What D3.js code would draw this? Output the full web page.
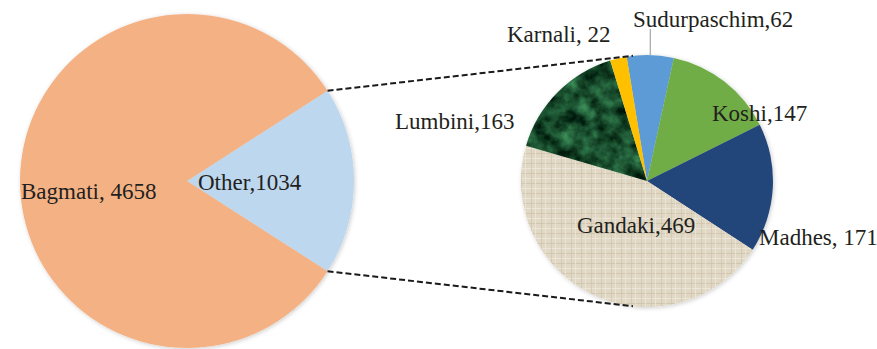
<!DOCTYPE html>
<html>
<head>
<meta charset="utf-8">
<script src="https://cdn.jsdelivr.net/npm/d3@7"></script>
<style>
  body { margin: 0; background: #fff; }
  svg text { font-family: "Liberation Serif", "Times New Roman", serif; font-size: 23px; fill: #231f20; }
</style>
</head>
<body>
<svg id="chart" width="877" height="349"></svg>
<script>
// main pie
const mainNames = ["Other", "Bagmati"];
const mainValues = [1034, 4658];
const mainLabels = ["Other,1034", "Bagmati, 4658"];
// breakdown of "Other"
const subNames = ["Sudurpaschim", "Koshi", "Madhes", "Gandaki", "Lumbini", "Karnali"];
const subValues = [62, 147, 171, 469, 163, 22];
const subLabels = ["Sudurpaschim,62", "Koshi,147", "Madhes, 171", "Gandaki,469", "Lumbini,163", "Karnali, 22"];

const mainColors = { Other: "#bdd7ee", Bagmati: "#f4b183" };
const subColors = {
    Sudurpaschim: "#5b9bd5", Koshi: "#70ad47", Madhes: "#23457a",
    Gandaki: "url(#linen)", Lumbini: "#1d5a33", Karnali: "#ffc000"
};

// layout
const main = { cx: 187, cy: 181, r: 167 };
const sub = { cx: 647, cy: 181, r: 126, start: -9.3 * Math.PI / 180 };
const labelPos = {
    "Other": [198, 190], "Bagmati": [21, 199],
    "Sudurpaschim": [633, 27], "Koshi": [712, 121], "Madhes": [759, 245],
    "Gandaki": [577, 233], "Lumbini": [395, 129], "Karnali": [507, 42]
};

const svg = d3.select("#chart");
const defs = svg.append("defs");

// linen texture
let linen = defs.append("pattern").attr("id", "linen")
    .attr("patternUnits", "userSpaceOnUse").attr("width", 10).attr("height", 10);
linen.append("rect").attr("width", 10).attr("height", 10).attr("fill", "#e0d7c4");
linen.append("rect").attr("x", 0).attr("y", 2).attr("width", 10).attr("height", 1).attr("fill", "#d2c7b0");
linen.append("rect").attr("x", 0).attr("y", 7).attr("width", 10).attr("height", 1).attr("fill", "#ece6d8");
linen.append("rect").attr("x", 4).attr("y", 0).attr("width", 1).attr("height", 10).attr("fill", "#d0c5ad").attr("opacity", 0.7);
linen.append("rect").attr("x", 8).attr("y", 0).attr("width", 1).attr("height", 10).attr("fill", "#efe9dc").attr("opacity", 0.7);

// green marble
let marble = defs.append("filter").attr("id", "marble")
    .attr("color-interpolation-filters", "sRGB")
    .attr("x", 0).attr("y", 0).attr("width", 1).attr("height", 1);
marble.append("feTurbulence").attr("type", "fractalNoise")
    .attr("baseFrequency", 0.06).attr("numOctaves", 4).attr("seed", 7).attr("result", "n");
marble.append("feColorMatrix").attr("in", "n").attr("type", "matrix")
    .attr("values", "0.4 0 0 0 -0.1  0.75 0 0 0 -0.07  0.5 0 0 0 -0.07  0 0 0 0 1")
    .attr("result", "c");
marble.append("feComposite").attr("in", "c").attr("in2", "SourceGraphic").attr("operator", "in");

let shadow = defs.append("filter").attr("id", "shadow")
    .attr("x", "-10%").attr("y", "-10%").attr("width", "120%").attr("height", "120%");
shadow.append("feDropShadow").attr("dx", 1).attr("dy", 1).attr("stdDeviation", 2)
    .attr("flood-color", "#000").attr("flood-opacity", 0.2);

// main pie
const mainData = mainNames.map((n, i) => ({ name: n, value: mainValues[i], label: mainLabels[i] }));
const otherFrac = mainValues[0] / d3.sum(mainValues);
const mainStart = Math.PI / 2 - otherFrac * Math.PI;
const mainPie = d3.pie().sort(null).value(d => d.value)
    .startAngle(mainStart).endAngle(mainStart + 2 * Math.PI);
const mainArc = d3.arc().innerRadius(0).outerRadius(main.r);
const mainArcs = mainPie(mainData);

svg.append("g").attr("transform", `translate(${main.cx},${main.cy})`)
    .attr("filter", "url(#shadow)")
    .selectAll("path").data(mainArcs).enter().append("path")
    .attr("d", mainArc)
    .attr("fill", d => mainColors[d.data.name]);

// sub pie
const subData = subNames.map((n, i) => ({ name: n, value: subValues[i], label: subLabels[i] }));
const subPie = d3.pie().sort(null).value(d => d.value)
    .startAngle(sub.start).endAngle(sub.start + 2 * Math.PI);
const subArc = d3.arc().innerRadius(0).outerRadius(sub.r);
const subArcs = subPie(subData);

let subG = svg.append("g").attr("transform", `translate(${sub.cx},${sub.cy})`)
    .attr("filter", "url(#shadow)");
subG.selectAll("path").data(subArcs).enter().append("path")
    .attr("d", subArc)
    .attr("fill", d => subColors[d.data.name])
    .attr("filter", d => d.data.name === "Lumbini" ? "url(#marble)" : null);

// connector lines
const polar = (c, r, a) => [c.cx + r * Math.sin(a), c.cy - r * Math.cos(a)];
const otherArc = mainArcs[0];
const joinAngle = 6.4 * Math.PI / 180;
const connectors = [
    [polar(main, main.r, otherArc.startAngle), polar(sub, sub.r, -joinAngle)],
    [polar(main, main.r, otherArc.endAngle), polar(sub, sub.r, Math.PI + joinAngle)]
];
svg.append("g").selectAll("line").data(connectors).enter().append("line")
    .attr("x1", d => d[0][0]).attr("y1", d => d[0][1])
    .attr("x2", d => d[1][0]).attr("y2", d => d[1][1])
    .attr("stroke", "#1a1a1a").attr("stroke-width", 2).attr("stroke-dasharray", "6,3");

// leader for Sudurpaschim
const sud = subArcs[0];
const sudMid = (sud.startAngle + sud.endAngle) / 2;
const sudEdge = polar(sub, sub.r, sudMid);
svg.append("line")
    .attr("x1", sudEdge[0]).attr("y1", sudEdge[1])
    .attr("x2", sudEdge[0]).attr("y2", labelPos.Sudurpaschim[1] + 2)
    .attr("stroke", "#a6a6a6").attr("stroke-width", 1.2);

// labels
const allData = mainData.concat(subData);
svg.append("g").selectAll("text").data(allData).enter().append("text")
    .attr("x", d => labelPos[d.name][0])
    .attr("y", d => labelPos[d.name][1])
    .text(d => d.label);
</script>
</body>
</html>
